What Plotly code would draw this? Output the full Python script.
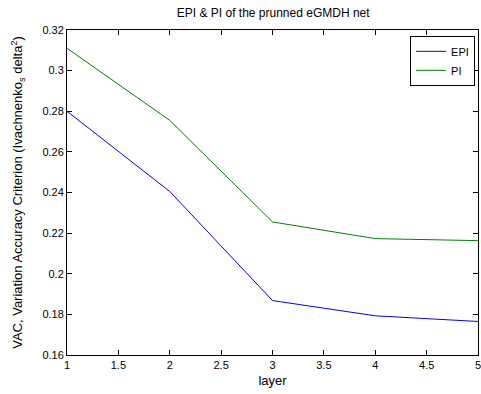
import plotly.graph_objects as go

layers = [1, 2, 3, 4, 5]
epi = [0.2800, 0.2405, 0.1868, 0.1793, 0.1765]
pi = [0.3110, 0.2755, 0.2255, 0.2173, 0.2163]

fig = go.Figure()
fig.add_trace(go.Scatter(x=layers, y=epi, mode="lines", name="EPI",
                         line=dict(color="#0000FF", width=1)))
fig.add_trace(go.Scatter(x=layers, y=pi, mode="lines", name="PI",
                         line=dict(color="#008000", width=1)))

font = "Liberation Sans, Arial, sans-serif"
fig.update_layout(
    width=481, height=394,
    margin=dict(l=67, r=0, t=30, b=39),
    paper_bgcolor="white", plot_bgcolor="white",
    font=dict(family=font, size=11, color="black"),
    title=dict(text="EPI & PI of the prunned eGMDH net", x=0.568, xanchor="center",
               y=1 - 13/394, yanchor="middle", font=dict(size=12)),
    showlegend=True,
    legend=dict(x=0.993, xanchor="right", y=0.982, yanchor="top",
                bordercolor="black", borderwidth=1, bgcolor="white",
                font=dict(size=11), tracegroupgap=0, itemwidth=30),
    xaxis=dict(range=[1, 5.0], tickvals=[1, 1.5, 2, 2.5, 3, 3.5, 4, 4.5, 5],
               ticktext=["1", "1.5", "2", "2.5", "3", "3.5", "4", "4.5", "5"],
               ticks="inside", ticklen=5, tickcolor="black", mirror="ticks",
               ticklabeloverflow="allow",
               showline=True, linecolor="black", linewidth=1, showgrid=False,
               zeroline=False, title=dict(text="layer", standoff=5)),
    yaxis=dict(range=[0.16, 0.32], tickvals=[0.16, 0.18, 0.2, 0.22, 0.24, 0.26, 0.28, 0.3, 0.32],
               ticktext=["0.16", "0.18", "0.2", "0.22", "0.24", "0.26", "0.28", "0.3", "0.32"],
               ticks="inside", ticklen=5, tickcolor="black", mirror="ticks",
               showline=True, linecolor="black", linewidth=1, showgrid=False,
               zeroline=False,
               title=dict(text="VAC, Variation Accuracy Criterion (Ivachnenko<sub>s</sub> delta<sup>2</sup>)",
                          standoff=16)),
)

fig.write_html("out.html")
